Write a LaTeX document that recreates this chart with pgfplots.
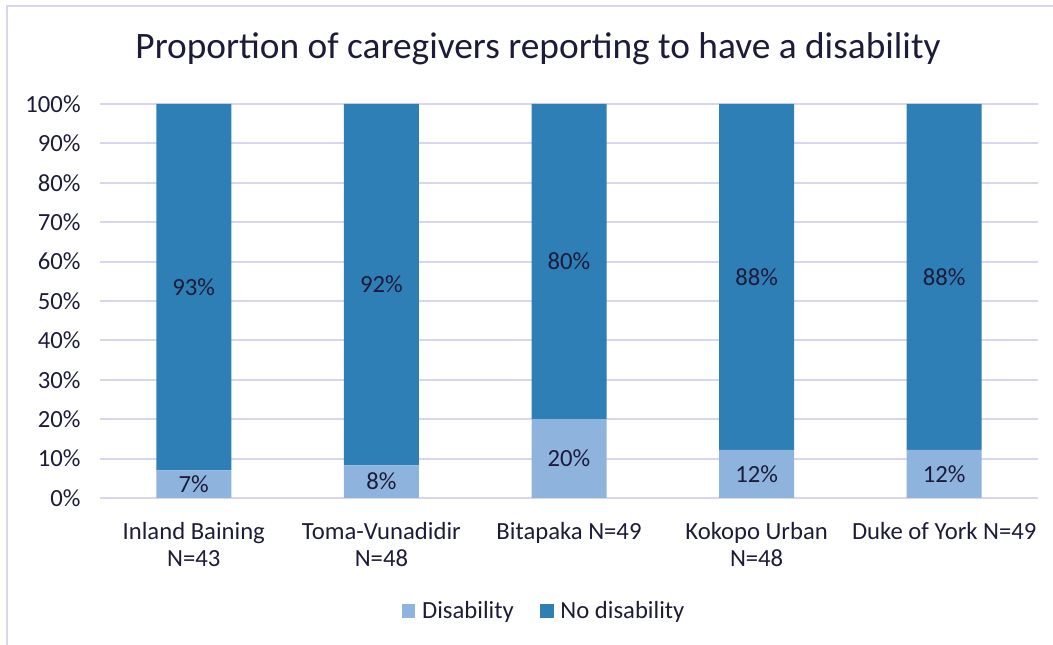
\documentclass[border=0pt]{standalone}
\usepackage{pgfplots}
\pgfplotsset{compat=1.18}
\usepackage{fontspec}
\setmainfont{Carlito}
\definecolor{dis}{RGB}{142,180,222}
\definecolor{nodis}{RGB}{46,127,182}
\definecolor{gridc}{RGB}{217,213,240}
\definecolor{txt}{RGB}{28,28,58}

\begin{document}
\begin{tikzpicture}[x=0.75pt,y=0.75pt]
\path[use as bounding box] (0,0) rectangle (1053,645);
\draw[gridc, line width=1.2pt] (7,0) -- (7,639) -- (1053,639);
\node[txt, font=\fontsize{28}{33}\selectfont] at (538,596) {Proportion of caregivers reporting to have a disability};

\begin{axis}[
  at={(75pt,110.25pt)}, anchor=south west,
  scale only axis, width=703.5pt, height=295.5pt,
  ybar stacked, bar width=56.25pt,
  xmin=-0.5, xmax=4.5, ymin=0, ymax=100,
  xtick={0,1,2,3,4},
  xticklabels={Inland Baining\\N=43, Toma-Vunadidir\\N=48, Bitapaka N=49, Kokopo Urban\\N=48, Duke of York N=49},
  ytick={0,10,...,100},
  yticklabels={0\%,10\%,20\%,30\%,40\%,50\%,60\%,70\%,80\%,90\%,100\%},
  major tick length=0pt,
  axis line style={draw=none},
  ymajorgrids, grid style={gridc, line width=1.4pt},
  ticklabel style={txt, font=\fontsize{18.5}{20}\selectfont},
  xticklabel style={align=center, anchor=north, yshift=-15pt},
  yticklabel style={anchor=east, xshift=-11pt},
  legend columns=2,
  legend style={at={(0.474,-0.287)}, anchor=center, draw=none, fill=none,
    font=\fontsize{18.5}{20}\selectfont, text=txt,
    /tikz/every even column/.append style={column sep=18pt}},
  legend image code/.code={\fill[#1] (0pt,-5pt) rectangle (10pt,5pt); \path (13pt,0pt);},
]
\addplot[fill=dis, draw=none] coordinates {(0,7) (1,8.3) (2,20) (3,12.2) (4,12.2)};
\addlegendentry{Disability}
\addplot[fill=nodis, draw=none] coordinates {(0,93) (1,91.7) (2,80) (3,87.8) (4,87.8)};
\addlegendentry{No disability}
\end{axis}

\begin{axis}[
  at={(75pt,110.25pt)}, anchor=south west,
  scale only axis, width=703.5pt, height=295.5pt,
  xmin=-0.5, xmax=4.5, ymin=0, ymax=100,
  hide axis,
  nodes near coords, point meta=explicit symbolic,
  every node near coord/.append style={anchor=center, txt, font=\fontsize{18.5}{20}\selectfont},
]
\addplot[draw=none, mark=none] coordinates {(0,3.5)[7\%] (1,4.15)[8\%] (2,10)[20\%] (3,6.1)[12\%] (4,6.1)[12\%]};
\addplot[draw=none, mark=none] coordinates {(0,53.5)[93\%] (1,54.15)[92\%] (2,60)[80\%] (3,56.1)[88\%] (4,56.1)[88\%]};
\end{axis}
\end{tikzpicture}
\end{document}
